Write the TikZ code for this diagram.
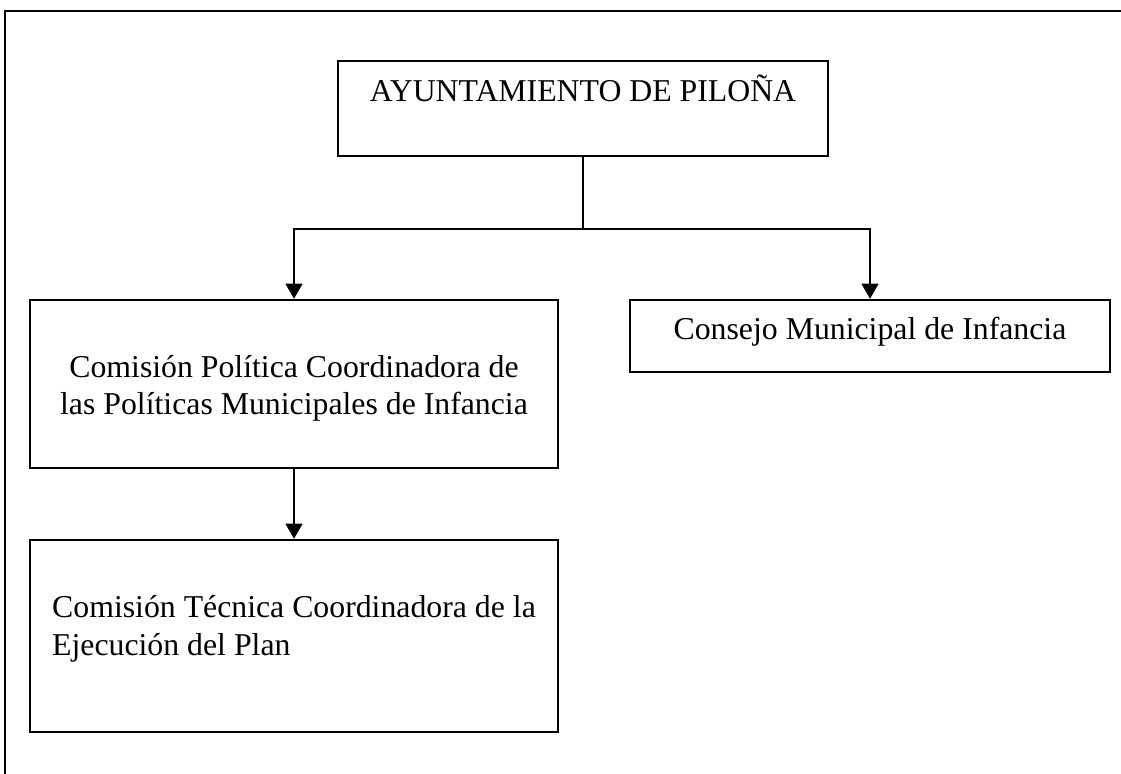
\documentclass[tikz,border=0pt]{standalone}
\usepackage{fontspec}
\setmainfont{Liberation Serif}
\usetikzlibrary{arrows.meta}

\begin{document}
\begin{tikzpicture}[
        x=0.025cm, y=-0.025cm,
        % Estilos generales
        caja/.style={draw=black, line width=1.6pt, fill=white, inner sep=0pt,
            align=center, anchor=base, font=\fontsize{22.6}{27}\selectfont},
        marco/.style={draw=black, line width=1.6pt},
        linea/.style={draw=black, line width=1.5pt},
        flecha/.style={linea, -{Triangle[width=0.42cm, length=0.38cm]}}
    ]
    \useasboundingbox (0,0) rectangle (1121,774);

    % 1. Marco exterior (solo lados izquierdo y superior)
    \draw[marco] (5,774) -- (5,11) -- (1121,11);

    % 2. Cajas (ancla en la linea base de la ultima linea)
    \node[caja, minimum width=12.25cm, text height=1.025cm, text depth=1.35cm]
        (ayto) at (583,102) {AYUNTAMIENTO DE PILOÑA};
    \node[caja, minimum width=13.2cm, text height=2.875cm, text depth=1.325cm]
        (comPol) at (294,415) {Comisión Política Coordinadora de\\las Políticas Municipales de Infancia};
    \node[caja, minimum width=12cm, text height=1.0cm, text depth=0.8cm]
        (consejo) at (870,340) {Consejo Municipal de Infancia};
    \node[caja, align=left, minimum width=13.2cm, text height=2.875cm, text depth=1.925cm]
        (comTec) at (294,655) {Comisión Técnica Coordinadora de la\\Ejecución del Plan};

    % 3. Conectores
    \draw[linea] (ayto.south) -- ++(0,72) coordinate (reparto);
    \draw[flecha] (reparto) -| (comPol.north);
    \draw[flecha] (reparto) -| (consejo.north);
    \draw[flecha] (comPol.south) -- (comTec.north);

\end{tikzpicture}
\end{document}
